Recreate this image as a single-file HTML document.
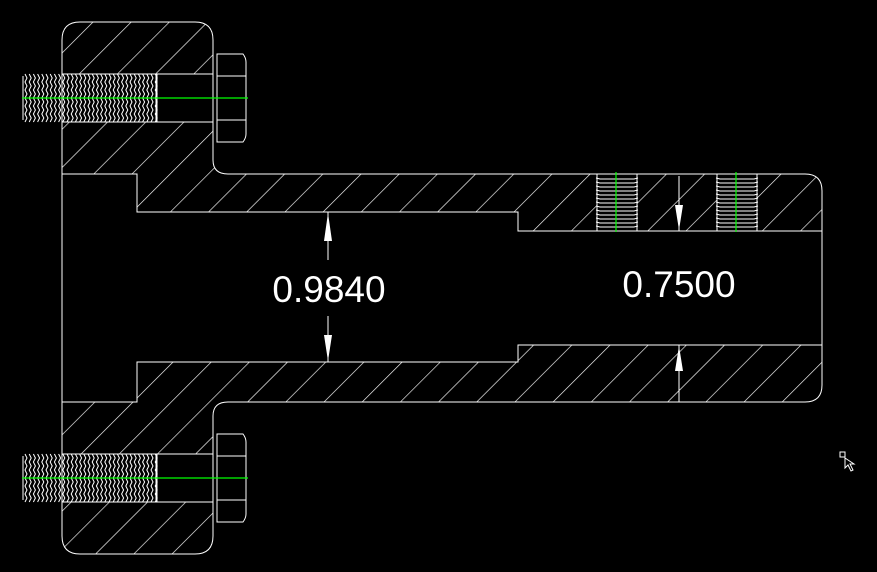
<!DOCTYPE html>
<html><head><meta charset="utf-8"><style>
html,body{margin:0;padding:0;background:#000;width:877px;height:572px;overflow:hidden}
</style></head><body>
<svg id="s" width="877" height="572" viewBox="0 0 877 572" xmlns="http://www.w3.org/2000/svg">
<defs>
<pattern id="hatch" patternUnits="userSpaceOnUse" width="27" height="27" patternTransform="rotate(45)">
<line x1="0" y1="0" x2="0" y2="27" stroke="#fff" stroke-width="1.3"/>
</pattern>
</defs>
<g fill="none" stroke="#fff" stroke-width="1">
<path fill="url(#hatch)" fill-rule="evenodd" d="M62,40 Q62,22 80,22 L195,22 Q213,22 213,40 L213,160 Q213,174 228,174 L805,174 Q822,174 822,191 L822,385 Q822,402 805,402 L228,402 Q213,402 213,416 L213,536 Q213,554 195,554 L80,554 Q62,554 62,536 Z
M62,174 L137,174 L137,212 L518,212 L518,231 L822,231 L822,345 L518,345 L518,362 L137,362 L137,402 L62,402 Z
M62,74 L213,74 L213,122 L62,122 Z M62,454 L213,454 L213,502 L62,502 Z
M597,174 L637,174 L637,231 L597,231 Z M717,174 L757,174 L757,231 L717,231 Z"/>
<rect x="157" y="74" width="56" height="48"/>
<path d="M217,54 L243,54 Q246,58 246,62 L246,134 Q246,138 243,142 L217,142 Z"/>
<line x1="217" y1="76" x2="246" y2="76"/><line x1="217" y1="120" x2="246" y2="120"/>
<rect x="157" y="454" width="56" height="48"/>
<path d="M217,434 L243,434 Q246,438 246,442 L246,514 Q246,518 243,522 L217,522 Z"/>
<line x1="217" y1="456" x2="246" y2="456"/><line x1="217" y1="500" x2="246" y2="500"/>
<g id="thr"></g>
<line x1="328" y1="212" x2="328" y2="260"/><line x1="328" y1="316" x2="328" y2="362"/>
<line x1="679" y1="176" x2="679" y2="231"/><line x1="679" y1="345" x2="679" y2="402"/>
</g>
<g fill="#fff">
<polygon points="328,213 324,241 332,241"/><polygon points="328,361 324,335 332,335"/>
<polygon points="679,230 675,205 683,205"/><polygon points="679,346 675,371 683,371"/>
</g>
<g stroke="#00ff00" stroke-width="1.2">
<line x1="22" y1="98" x2="248" y2="98"/><line x1="22" y1="478" x2="248" y2="478"/>
<line x1="616" y1="172" x2="616" y2="232"/><line x1="736" y1="172" x2="736" y2="232"/>
</g>
<g fill="#fff" font-family="Liberation Sans, sans-serif" font-size="37" text-anchor="middle">
<text x="329" y="302">0.9840</text>
<text x="679" y="297">0.7500</text>
</g>
<rect x="840" y="452" width="5" height="5" fill="none" stroke="#fff"/>
<path d="M845,458 L845,468 L848,465 L851,471 L853,470 L850,464 L854,464 Z" fill="#000" stroke="#fff"/>
</svg>
<script>
var g=document.getElementById('thr'),d='';
[74,454].forEach(function(y0){
 d+='M23,'+(y0+2)+' L23,'+(y0+46)+' ';
 for(var x=25;x<156;x+=4.2){
  d+='M'+x.toFixed(1)+','+(y0)+' ';
  for(var k=1;k<=12;k++){d+='L'+(x+(k%2?2:0)).toFixed(1)+','+(y0+k*4)+' ';}
 }
 d+='M156,'+y0+' L156,'+(y0+48)+' ';
});
[597,717].forEach(function(x0){
 for(var y=178;y<230;y+=4){
  d+='M'+(x0-1)+','+y+' L'+(x0+3)+','+(y+1)+' L'+(x0+37)+','+(y+1)+' L'+(x0+41)+','+y+' ';
 }
});
var p=document.createElementNS('http://www.w3.org/2000/svg','path');
p.setAttribute('d',d);g.appendChild(p);
</script>
</body></html>
